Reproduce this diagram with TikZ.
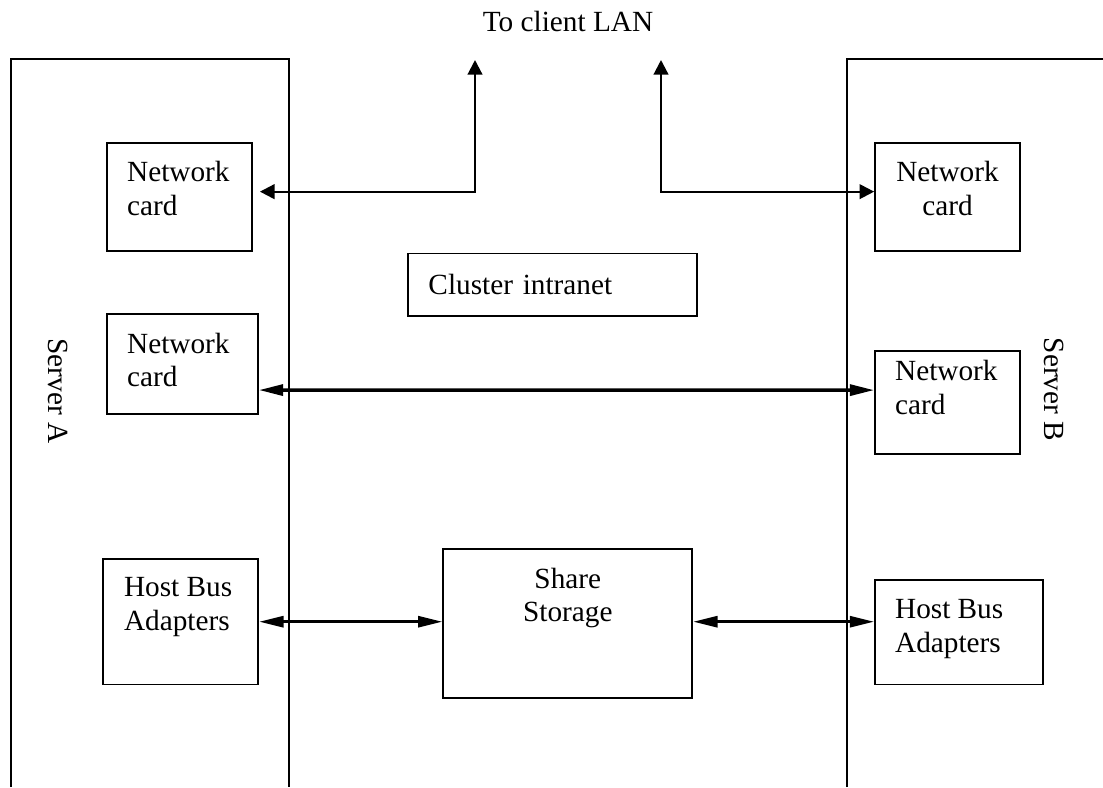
\documentclass[tikz,border=0pt]{standalone}
\usepackage{fontspec}
\setmainfont{Liberation Serif}
\usetikzlibrary{arrows.meta}
\tikzset{box/.style={draw, line width=0.7pt, rectangle, inner sep=0pt}}
\tikzset{txtleft/.style={anchor=north west, inner sep=0pt, align=left}}
\tikzset{txtmid/.style={anchor=north, inner sep=0pt, align=center}}
\tikzset{lanlink/.style={line width=0.9pt,
      {Triangle[length=6pt,width=6pt]}-{Triangle[length=6pt,width=6pt]}}}
\tikzset{buslink/.style={line width=1.2pt,
      {Triangle[length=10pt,width=4.5pt]}-{Triangle[length=10pt,width=4.5pt]}}}

\begin{document}
\begin{tikzpicture}[x=0.41pt,y=-0.41pt,font=\fontsize{12}{13.8}\selectfont]
    \useasboundingbox (0,0) rectangle (1103,787);
    % servers
    \draw[line width=0.7pt] (10.7,787) -- (10.7,59) -- (289.3,59) -- (289.3,787);
    \draw[line width=0.7pt] (846.7,787) -- (846.7,59) -- (1103,59);
    \node[rotate=-90] (srvA) at (58,391) {Server A};
    \node[rotate=-90] (srvB) at (1054,389.5) {Server B};
    \node (lan) at (568,21) {To client LAN};

    \node[box, minimum width=59.45pt, minimum height=44pt,
      label={[txtleft, xshift=8.4pt, yshift=-7.5pt]north west:Network\\card}] (nicA1) at (179.5,197) {};
    \node[box, minimum width=59.45pt, minimum height=44pt,
      label={[txtmid, yshift=-7.5pt]north:Network\\card}] (nicB1) at (947.5,197) {};
    \node[box, minimum width=118.5pt, minimum height=25.7pt, text width=101.7pt,
      align=left, inner xsep=8.4pt] (intranet) at (552.5,284.7) {Cluster intranet};
    \node[box, minimum width=61.9pt, minimum height=40.9pt,
      label={[txtleft, xshift=8.4pt, yshift=-7.8pt]north west:Network\\card}] (nicA2) at (182.5,364.2) {};
    \node[box, minimum width=59.45pt, minimum height=42.1pt,
      label={[txtleft, xshift=8.4pt, yshift=-4.1pt]north west:Network\\card}] (nicB2) at (947.5,402.3) {};
    \node[box, minimum width=63.8pt, minimum height=51.4pt,
      label={[txtleft, xshift=8.9pt, yshift=-7.8pt]north west:Host Bus\\Adapters}] (hbaA) at (180.5,621.7) {};
    \node[box, minimum width=102.1pt, minimum height=61.1pt,
      label={[txtmid, yshift=-7.8pt]north:Share\\Storage}] (store) at (567.8,623.8) {};
    \node[box, minimum width=68.9pt, minimum height=42.8pt,
      label={[txtleft, xshift=8.4pt, yshift=-8.2pt]north west:Host Bus\\Adapters}] (hbaB) at (959,632.2) {};

    % links
    \coordinate (upA) at (475,60);
    \coordinate (upB) at (661,60);
    \draw[lanlink] (upA) |- ([xshift=2.9pt,yshift=2.2pt]nicA1.east);
    \draw[lanlink] (upB) |- ([yshift=2.2pt]nicB1.west);
    \draw[buslink, line width=1.4pt] ([yshift=-10.6pt]nicA2.east) -- ([yshift=5pt]nicB2.west);
    \draw[buslink] (hbaA.east) -- (hbaA.east -| store.west);
    \draw[buslink] (store.east |- hbaA.east) -- (hbaA.east -| hbaB.west);
\end{tikzpicture}
\end{document}
